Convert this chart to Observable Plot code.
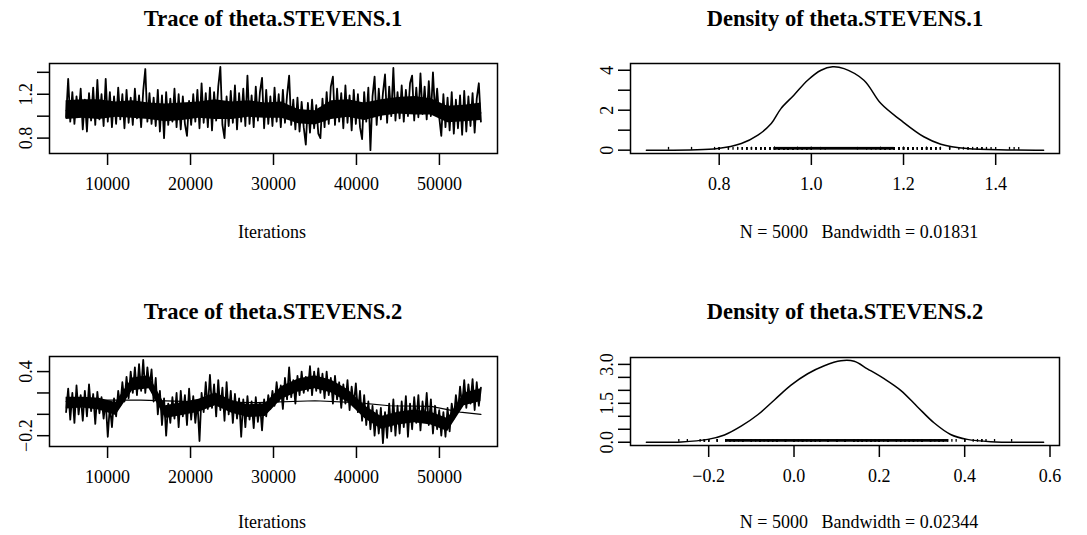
<!DOCTYPE html>
<html><head><meta charset="utf-8">
<script src="https://cdn.jsdelivr.net/npm/d3@7"></script>
<script src="https://cdn.jsdelivr.net/npm/@observablehq/plot@0.6"></script>
<style>
body{margin:0;background:#fff;}
#root{position:relative;width:1087px;height:535px;font-family:"Liberation Serif","Times New Roman",serif;color:#000;overflow:hidden;}
.t{position:absolute;transform:translate(-50%,-50%);white-space:pre;line-height:1;}
.title{font-weight:bold;font-size:22.5px;}
.sub{font-size:18px;}
</style></head><body><div id="root"></div>
<script>
// ---- data ----
const traceStart = 5000, traceEnd = 55000;
const trace1 = [
0.99,1.34,0.95,1.22,0.93,1.18,1.00,1.25,0.88,1.15,0.86,1.21,0.96,1.26,0.92,1.33,0.97,1.20,0.91,1.34,
0.95,1.22,0.90,1.18,0.93,1.26,0.97,1.20,0.89,1.24,0.94,1.17,0.92,1.25,0.98,1.19,0.90,1.23,1.43,0.95,
1.21,0.93,1.17,0.91,1.24,0.86,1.19,0.80,1.22,0.92,1.16,0.95,1.25,0.90,1.20,0.88,1.18,0.93,0.82,1.14,
0.92,1.20,0.95,1.24,0.89,1.30,0.94,1.21,0.90,1.26,0.87,1.22,0.96,1.27,1.45,0.92,0.80,1.18,0.91,1.23,
0.94,1.28,0.88,1.21,0.95,1.25,0.91,1.37,0.93,1.19,0.90,1.27,0.96,1.22,1.35,0.89,1.24,0.93,1.18,0.91,
1.26,0.95,1.20,0.90,1.24,0.94,1.19,1.37,0.92,1.15,0.88,1.17,0.86,1.13,0.90,0.74,1.12,0.85,1.15,0.89,
1.10,0.84,0.80,1.16,0.90,1.22,0.93,1.27,1.36,0.92,1.25,0.95,1.21,0.89,1.28,0.94,1.19,0.87,1.24,0.93,
1.20,0.90,0.79,1.22,0.95,1.26,0.69,1.18,1.36,0.92,1.25,0.97,1.21,1.38,0.94,1.27,1.00,1.44,0.96,1.22,
0.98,1.28,0.95,1.24,1.00,1.30,1.37,0.96,1.26,0.99,1.39,1.02,1.27,0.97,1.32,1.00,1.40,1.03,1.25,0.99,
0.82,1.20,0.90,1.17,0.87,1.22,0.84,1.15,0.89,1.19,0.83,1.23,0.86,1.18,0.91,1.21,0.85,1.16,1.30,0.95];
const trace2 = [
0.02,0.24,-0.05,0.20,-0.08,0.27,0.00,0.18,-0.06,0.22,-0.02,0.28,0.03,0.19,-0.09,0.21,0.01,0.16,-0.04,0.12,
-0.21,0.08,-0.12,0.15,-0.02,0.22,0.08,0.30,0.12,0.35,0.15,0.40,0.20,0.44,0.18,0.47,0.22,0.51,0.20,0.44,
0.25,0.42,0.12,0.34,0.00,0.22,-0.10,0.15,-0.20,0.10,-0.08,0.16,-0.04,0.20,-0.12,0.22,-0.02,0.18,-0.10,0.24,
-0.05,0.17,-0.08,0.12,-0.25,0.20,0.02,0.30,0.05,0.37,0.06,0.28,-0.02,0.32,0.04,0.25,-0.06,0.30,0.00,0.22,
-0.08,0.19,-0.04,0.15,-0.21,0.14,-0.12,0.17,-0.05,0.12,-0.13,0.16,-0.07,0.10,-0.15,0.14,-0.02,0.18,0.05,0.22,
0.08,0.30,0.12,0.27,0.05,0.34,0.14,0.44,0.16,0.32,0.10,0.36,0.18,0.40,0.20,0.35,0.22,0.45,0.18,0.40,
0.22,0.43,0.20,0.38,0.15,0.40,0.18,0.34,0.10,0.36,0.14,0.30,0.06,0.28,0.10,0.32,0.04,0.26,0.08,0.29,
0.02,0.22,-0.06,0.18,-0.10,0.12,-0.14,0.08,-0.20,0.04,-0.18,0.06,-0.27,0.02,-0.22,0.10,-0.16,0.14,-0.20,0.08,
-0.18,0.12,-0.12,0.17,-0.21,0.10,-0.14,0.16,-0.08,0.18,-0.15,0.12,-0.06,0.20,-0.10,0.14,-0.18,0.08,-0.14,0.04,
-0.20,0.02,-0.21,0.06,-0.16,0.10,-0.04,0.18,0.02,0.26,0.08,0.32,0.06,0.28,0.10,0.33,0.04,0.30,0.08,0.25];

// dense core of each trace (where most draws lie), read every 2000 iterations
const bandIter = [5000,7000,9000,11000,13000,15000,17000,19000,21000,23000,25000,27000,29000,31000,33000,35000,37000,39000,41000,43000,45000,47000,49000,51000,53000,55000];
const trace1Lo = [0.97,0.98,0.97,0.99,0.98,0.97,0.95,0.96,0.98,0.97,0.97,0.99,0.98,0.98,0.93,0.92,0.97,0.99,0.96,1.00,1.02,1.01,1.01,0.94,0.95,0.96];
const trace1Hi = [1.14,1.15,1.15,1.13,1.14,1.12,1.11,1.12,1.13,1.15,1.13,1.14,1.12,1.13,1.06,1.05,1.14,1.15,1.12,1.15,1.17,1.18,1.16,1.09,1.10,1.12];
const trace2Lo = [0.05,0.06,0.04,-0.01,0.22,0.24,-0.04,-0.01,0.02,0.08,0.01,-0.03,-0.02,0.14,0.21,0.24,0.20,0.11,-0.04,-0.14,-0.10,-0.08,-0.10,-0.16,0.08,0.12];
const trace2Hi = [0.16,0.16,0.15,0.11,0.34,0.36,0.08,0.11,0.14,0.20,0.13,0.09,0.10,0.26,0.33,0.36,0.32,0.23,0.08,-0.02,0.02,0.04,0.02,-0.04,0.20,0.24];

const smooth1Iter = [5000,20000,35000,45000,55000];
const smooth1 = [1.05,1.04,1.02,1.06,1.03];
const smooth2Iter = [5000,10000,14000,21000,28000,35000,40000,44000,49000,52500,55000];
const smooth2 = [0.12,0.133,0.133,0.117,0.11,0.127,0.11,0.08,0.075,0.02,0.0];

const dens1X = [0.642,0.797,0.848,0.884,0.913,0.934,0.962,0.992,1.021,1.046,1.071,1.114,1.151,1.194,1.244,1.281,1.338,1.425,1.504];
const dens1Y = [0.0,0.08,0.33,0.75,1.33,2.08,2.75,3.5,4.0,4.17,4.08,3.5,2.33,1.5,0.67,0.3,0.08,0.01,0.0];
const dens2X = [-0.346,-0.264,-0.202,-0.163,-0.124,-0.085,-0.046,-0.007,0.032,0.071,0.110,0.141,0.172,0.211,0.250,0.289,0.328,0.367,0.406,0.461,0.585];
const dens2Y = [0.0,0.01,0.11,0.28,0.62,1.06,1.63,2.2,2.64,2.95,3.14,3.12,2.83,2.45,2.0,1.37,0.75,0.30,0.11,0.02,0.0];

const traceXTicks = [10000,20000,30000,40000,50000];
const trace1YTicks = [0.8,1.0,1.2,1.4], trace1YLabels = [0.8,1.2];
const trace2YTicks = [-0.2,0.0,0.2,0.4], trace2YLabels = [-0.2,0.4];
const dens1XTicks = [0.8,1.0,1.2,1.4];
const dens1YTicks = [0,1,2,3,4], dens1YLabels = [0,2,4];
const dens2XTicks = [-0.2,0.0,0.2,0.4,0.6];
const dens2YTicks = [0,0.5,1.0,1.5,2.0,2.5,3.0], dens2YLabels = [0,1.5,3.0];

const titles = ["Trace of theta.STEVENS.1","Density of theta.STEVENS.1","Trace of theta.STEVENS.2","Density of theta.STEVENS.2"];
const subs = ["Iterations","N = 5000   Bandwidth = 0.01831","Iterations","N = 5000   Bandwidth = 0.02344"];

// ---- helpers ----
const root = document.getElementById("root");
const pad = ([a,b]) => { const r = b - a; return [a - 0.04*r, b + 0.04*r]; };
const FONT = '"Liberation Serif","Times New Roman",serif';

function addText(txt, cls, x, y){
  const d = document.createElement("div");
  d.className = "t " + cls; d.textContent = txt;
  d.style.left = x + "px"; d.style.top = y + "px";
  root.appendChild(d);
}

function panel(o){
  const [fx0, fy0, fx1, fy1] = o.frame;
  const svg = Plot.plot({
    width: o.width, height: o.height,
    marginLeft: fx0 - o.left, marginRight: o.left + o.width - fx1,
    marginTop: fy0 - o.top, marginBottom: o.top + o.height - fy1,
    x: {domain: o.xDomain, label: null},
    y: {domain: o.yDomain, label: null},
    style: {fontFamily: FONT, fontSize: "18px", color: "black", background: "transparent", overflow: "visible"},
    marks: [
      ...o.marks,
      Plot.frame({stroke: "black", strokeWidth: 1.5}),
      Plot.axisX({ticks: o.xTicks, label: null, tickSize: 12, tickPadding: 12, tickFormat: o.xFmt, strokeWidth: 1.5, fontSize: 18}),
      Plot.axisY({ticks: o.yTicks, label: null, tickSize: 12, tickPadding: 6, tickRotate: -90,
        tickFormat: d => o.yLabels.some(v => Math.abs(v - d) < 1e-9) ? o.yFmt(d) : "", strokeWidth: 1.5, fontSize: 18})
    ]
  });
  svg.style.position = "absolute";
  svg.style.left = o.left + "px";
  svg.style.top = o.top + "px";
  root.appendChild(svg);
}

function traceRows(vals){
  const n = vals.length;
  return vals.map((v, i) => ({it: traceStart + i * (traceEnd - traceStart) / (n - 1), v}));
}

function tracePanel(vals, lo, hi, sIter, sVals, top, frame, yTicks, yLabels){
  const rows = traceRows(vals);
  const band = bandIter.map((it, i) => ({it, lo: lo[i], hi: hi[i]}));
  const sm = sIter.map((it, i) => ({it, v: sVals[i]}));
  panel({
    left: 0, top, width: 543, height: 265, frame,
    xDomain: pad([traceStart, traceEnd]),
    yDomain: pad(d3.extent(vals)),
    xTicks: traceXTicks, xFmt: d3.format("d"),
    yTicks, yLabels, yFmt: d3.format(".1f"),
    marks: [
      Plot.areaY(band, {x: "it", y1: "lo", y2: "hi", fill: "black"}),
      Plot.line(rows, {x: "it", y: "v", stroke: "black", strokeWidth: 1.8}),
      Plot.line(sm, {x: "it", y: "v", stroke: "black", strokeWidth: 1.2})
    ]
  });
}

function densPanel(dx, dy, obs, lo, hi, top, frame, xTicks, xFmt, yTicks, yLabels, yFmt){
  const rows = dx.map((x, i) => ({x, y: dy[i]}));
  const ymax = d3.max(dy);
  const rugH = ymax / 30;
  panel({
    left: 543, top, width: 544, height: 265, frame,
    xDomain: pad(d3.extent(dx)),
    yDomain: pad([0, ymax]),
    xTicks, xFmt, yTicks, yLabels, yFmt,
    marks: [
      // rug of the draws: the dense core forms a solid strip, outliers show as ticks
      Plot.rect([{a: d3.min(lo), b: d3.max(hi)}], {x1: "a", x2: "b", y1: 0, y2: rugH, fill: "black"}),
      Plot.ruleX(obs, {x: d => d, y1: 0, y2: rugH, stroke: "black", strokeWidth: 1.3}),
      Plot.line(rows, {x: "x", y: "y", stroke: "black", strokeWidth: 1.5, curve: "catmull-rom"})
    ]
  });
}

tracePanel(trace1, trace1Lo, trace1Hi, smooth1Iter, smooth1, 0, [49, 63, 497, 153], trace1YTicks, trace1YLabels);
densPanel(dens1X, dens1Y, trace1, trace1Lo, trace1Hi, 0, [630, 63, 1059, 153], dens1XTicks, d3.format(".1f"), dens1YTicks, dens1YLabels, d3.format("d"));
tracePanel(trace2, trace2Lo, trace2Hi, smooth2Iter, smooth2, 270, [49, 356, 497, 446], trace2YTicks, trace2YLabels);
densPanel(dens2X, dens2Y, trace2, trace2Lo, trace2Hi, 270, [630, 357, 1059, 445], dens2XTicks, d3.format(".1f"), dens2YTicks, dens2YLabels, d3.format(".1f"));

addText(titles[0], "title", 273, 19);
addText(titles[1], "title", 845, 19);
addText(titles[2], "title", 273, 312);
addText(titles[3], "title", 845, 312);
addText(subs[0], "sub", 272, 232);
addText(subs[1], "sub", 859, 232);
addText(subs[2], "sub", 272, 522);
addText(subs[3], "sub", 859, 522);
</script></body></html>
